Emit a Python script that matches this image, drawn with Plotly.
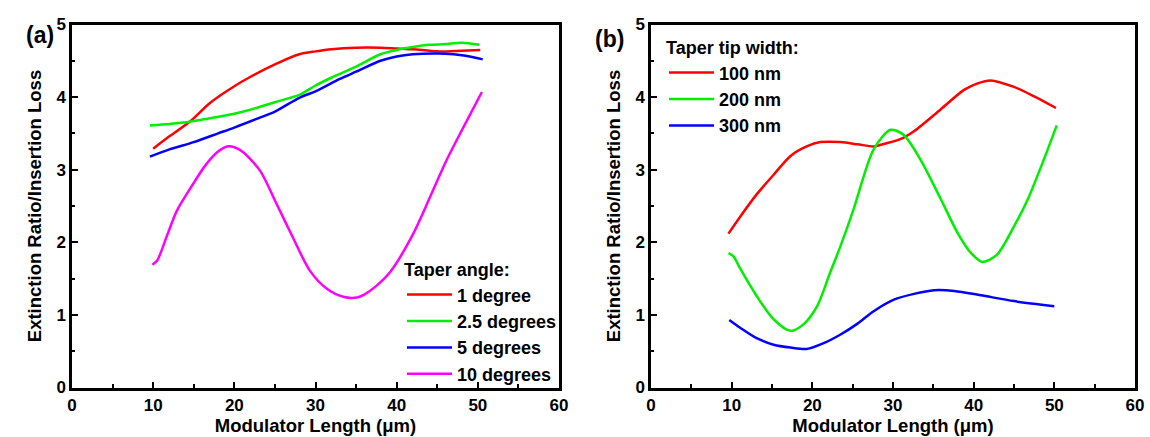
import plotly.graph_objects as go

# ---------- Panel (a): taper angle ----------
a_x_1deg = [10, 12, 14.5, 17, 20, 22, 25, 28, 30, 32, 35, 38, 40, 42, 45, 48, 50.3]
a_y_1deg = [3.29, 3.46, 3.66, 3.92, 4.15, 4.28, 4.45, 4.59, 4.63, 4.66, 4.68, 4.68, 4.67, 4.66, 4.63, 4.64, 4.65]

a_x_25deg = [9.6, 12, 14.5, 17, 20, 23, 25, 28, 30, 32, 35, 38, 40, 42, 44, 46, 48, 50.2]
a_y_25deg = [3.61, 3.63, 3.66, 3.71, 3.77, 3.86, 3.93, 4.03, 4.16, 4.27, 4.42, 4.59, 4.65, 4.69, 4.72, 4.73, 4.75, 4.72]

a_x_5deg = [9.6, 12, 15, 18, 20, 23, 25, 28, 30, 33, 35, 38, 40, 42, 45, 47, 48.5, 50.6]
a_y_5deg = [3.18, 3.28, 3.38, 3.50, 3.58, 3.71, 3.80, 3.99, 4.08, 4.25, 4.35, 4.50, 4.56, 4.59, 4.60, 4.59, 4.57, 4.52]

a_x_10deg = [9.9, 10.5, 11.7, 12.9, 14.9, 16.5, 18, 19.1, 20, 21.1, 23.2, 25.2, 27.2, 29.3, 31.4,
             33.4, 35.1, 36, 37.5, 39.2, 42, 44.1, 46.1, 48.2, 50.5]
a_y_10deg = [1.69, 1.75, 2.09, 2.43, 2.80, 3.07, 3.25, 3.32, 3.31, 3.24, 2.98, 2.53, 2.07, 1.61, 1.36,
             1.25, 1.24, 1.28, 1.40, 1.59, 2.11, 2.62, 3.12, 3.58, 4.07]

# ---------- Panel (b): taper tip width ----------
b_x_100 = [9.6, 11.1, 13.1, 15.2, 17.3, 19.3, 21, 23.5, 25.6, 27.6, 28.4, 30.9, 32.6, 35.9, 38.8,
           40.5, 42.1, 45, 47.5, 50.2]
b_y_100 = [2.12, 2.36, 2.66, 2.93, 3.19, 3.32, 3.38, 3.38, 3.35, 3.32, 3.34, 3.42, 3.53, 3.83, 4.10,
           4.19, 4.23, 4.14, 4.01, 3.85]

b_x_200 = [9.6, 10.2, 11.1, 13.1, 15.2, 17.3, 18.9, 20.6, 22.2, 23.5, 25.1, 27.6, 29.7, 31.3, 33.4,
           35.9, 38.0, 39.6, 41.1, 42.9, 45.0, 46.7, 48.7, 50.3]
b_y_200 = [1.85, 1.81, 1.63, 1.26, 0.94, 0.78, 0.87, 1.12, 1.58, 1.95, 2.45, 3.28, 3.55, 3.48, 3.14,
           2.60, 2.13, 1.86, 1.73, 1.83, 2.22, 2.59, 3.14, 3.61]

b_x_300 = [9.7, 11.1, 13.1, 15.2, 17.3, 19.3, 21.4, 23.5, 25.6, 27.6, 30.1, 32.6, 35.1, 37.6, 40.9,
           45.0, 50.0]
b_y_300 = [0.93, 0.82, 0.68, 0.59, 0.55, 0.53, 0.61, 0.73, 0.88, 1.05, 1.21, 1.29, 1.34, 1.33, 1.27,
           1.19, 1.12]

a_names = ["1 degree", "2.5 degrees", "5 degrees", "10 degrees"]
b_names = ["100 nm", "200 nm", "300 nm"]
x_ticks = [0, 10, 20, 30, 40, 50, 60]
y_ticks = [0, 1, 2, 3, 4, 5]

RED, GREEN, BLUE, MAG = "#ff0000", "#00ee00", "#0000ff", "#ff00ff"
FONT = "Liberation Sans, Arial, sans-serif"

fig = go.Figure()
for xs, ys, nm, c in [(a_x_1deg, a_y_1deg, a_names[0], RED),
                      (a_x_25deg, a_y_25deg, a_names[1], GREEN),
                      (a_x_5deg, a_y_5deg, a_names[2], BLUE),
                      (a_x_10deg, a_y_10deg, a_names[3], MAG)]:
    fig.add_trace(go.Scatter(x=xs, y=ys, name=nm, mode="lines",
                             line=dict(color=c, width=2.5, shape="spline", smoothing=0.8),
                             xaxis="x", yaxis="y", legend="legend"))
for xs, ys, nm, c in [(b_x_100, b_y_100, b_names[0], RED),
                      (b_x_200, b_y_200, b_names[1], GREEN),
                      (b_x_300, b_y_300, b_names[2], BLUE)]:
    fig.add_trace(go.Scatter(x=xs, y=ys, name=nm, mode="lines",
                             line=dict(color=c, width=2.5, shape="spline", smoothing=0.8),
                             xaxis="x2", yaxis="y2", legend="legend2"))

W, H = 1150, 437
ydom = [(H - 387.5) / H, (H - 24.5) / H]
TICKF = dict(family=FONT, size=17, color="black", weight="bold")
TITLEF = dict(family=FONT, size=18.5, color="black", weight="bold")

def xax(dom, anchor):
    return dict(domain=dom, anchor=anchor, range=[0, 60], tickvals=x_ticks, ticks="inside", ticklen=6,
                tickwidth=2, tickcolor="black", showline=True, linewidth=2.5, linecolor="black", mirror=True,
                showgrid=False, zeroline=False, tickfont=TICKF,
                minor=dict(dtick=5, tick0=0, ticks="inside", ticklen=3.5, tickwidth=2, tickcolor="black", showgrid=False),
                title=dict(text="Modulator Length (μm)", font=TITLEF, standoff=0),
                automargin=False, fixedrange=True)

def yax(anchor):
    return dict(domain=ydom, anchor=anchor, range=[0, 5], tickvals=y_ticks, ticks="inside", ticklen=6,
                tickwidth=2, tickcolor="black", showline=True, linewidth=2.5, linecolor="black", mirror=True,
                showgrid=False, zeroline=False, tickfont=TICKF,
                minor=dict(dtick=0.5, tick0=0, ticks="inside", ticklen=3.5, tickwidth=2, tickcolor="black", showgrid=False),
                title=dict(text="Extinction Ratio/Insertion Loss", font=TITLEF, standoff=10),
                automargin=False, fixedrange=True)

legfont = dict(family=FONT, size=18, color="black", weight="bold")
fig.update_layout(
    width=W, height=H, margin=dict(l=0, r=0, t=0, b=0),
    paper_bgcolor="white", plot_bgcolor="white",
    xaxis=xax([72 / W, 559 / W], "y"), yaxis=yax("x"),
    xaxis2=xax([651 / W, 1135 / W], "y2"), yaxis2=yax("x2"),
    legend=dict(x=402 / W, y=(H - 253) / H, xanchor="left", yanchor="top", bgcolor="rgba(0,0,0,0)",
                font=legfont, itemwidth=45, tracegroupgap=0,
                title=dict(text="Taper angle:", font=legfont)),
    legend2=dict(x=664 / W, y=(H - 31) / H, xanchor="left", yanchor="top", bgcolor="rgba(0,0,0,0)",
                 font=legfont, itemwidth=45, tracegroupgap=0,
                 title=dict(text="Taper tip width:", font=legfont)),
    annotations=[
        dict(text="(a)", x=24 / W, y=(H - 20) / H, xref="paper", yref="paper", showarrow=False,
             font=dict(family=FONT, size=23, color="black", weight="bold")),
        dict(text="(b)", x=609 / W, y=(H - 24) / H, xref="paper", yref="paper", showarrow=False,
             font=dict(family=FONT, size=23, color="black", weight="bold")),
    ],
)

fig.write_html("out.html")
